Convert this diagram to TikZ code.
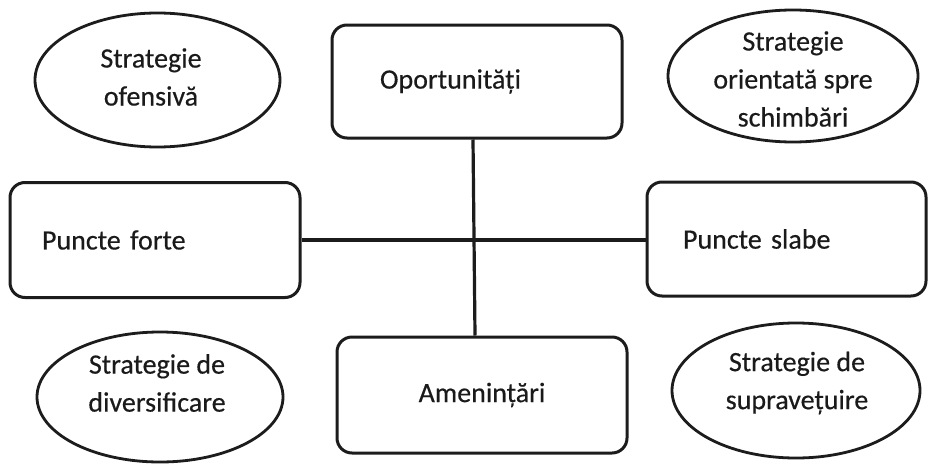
\documentclass[tikz,border=0pt]{standalone}
\usepackage{fontspec}
\setmainfont{Carlito}[UprightFeatures={FakeBold=0.4}]
\usetikzlibrary{shapes.geometric}
\definecolor{ink}{HTML}{1C1C1C}
\definecolor{txt}{HTML}{1A1A1A}
\tikzset{
  every node/.style={font=\fontsize{28}{38}\selectfont, text=txt},
  fieldbox/.style={draw=ink, line width=3pt, rounded corners=15pt, inner ysep=0pt, align=left},
  stratoval/.style={draw=ink, line width=2.8pt, ellipse, inner sep=0pt},
  stratext/.style={align=center, inner sep=0pt},
  axis/.style={draw=ink, line width=3.2pt}
}
\begin{document}
\begin{tikzpicture}[x=1pt, y=-1pt]
  \useasboundingbox[fill=white] (0,0) rectangle (928,463);

  % the four SWOT fields
  \node[fieldbox, minimum width=290pt, minimum height=113pt, inner xsep=48pt, text width=194pt]
    (opp) at (477,81.5) {Oportunități};
  \node[fieldbox, minimum width=290pt, minimum height=116pt, align=center]
    (thr) at (482,395) {Amenințări};
  \node[fieldbox, minimum width=290pt, minimum height=115pt, inner xsep=32pt, text width=226pt]
    (str) at (155,240) {Puncte forte};
  \node[fieldbox, minimum width=279pt, minimum height=114pt, inner xsep=36pt, text width=207pt]
    (wk) at (786.5,239) {Puncte slabe};

  % the cross joining the fields
  \path[axis] (opp.south -| 473,0) -- (thr.north -| 475,0);
  \path[axis] (str.east) -- (wk.west |- str.east);

  % strategy ovals in the four quadrants
  \node[stratoval, minimum width=245pt, minimum height=134pt] (so) at (157.5,80) {};
  \node[stratext] (sot) at (151,77) {Strategie\\ofensivă};

  \node[stratoval, minimum width=250pt, minimum height=132pt] (sc) at (793,76) {};
  \node[stratext] (sct) at (793,79) {Strategie\\orientată spre\\schimbări};

  \node[stratoval, minimum width=246pt, minimum height=130pt] (sd) at (160,397) {};
  \node[stratext] (sdt) at (157,383) {Strategie de\\diversificare};

  \node[stratoval, minimum width=248pt, minimum height=135pt] (ss) at (796,390.5) {};
  \node[stratext] (sst) at (797,383) {Strategie de\\supravețuire};
\end{tikzpicture}
\end{document}
